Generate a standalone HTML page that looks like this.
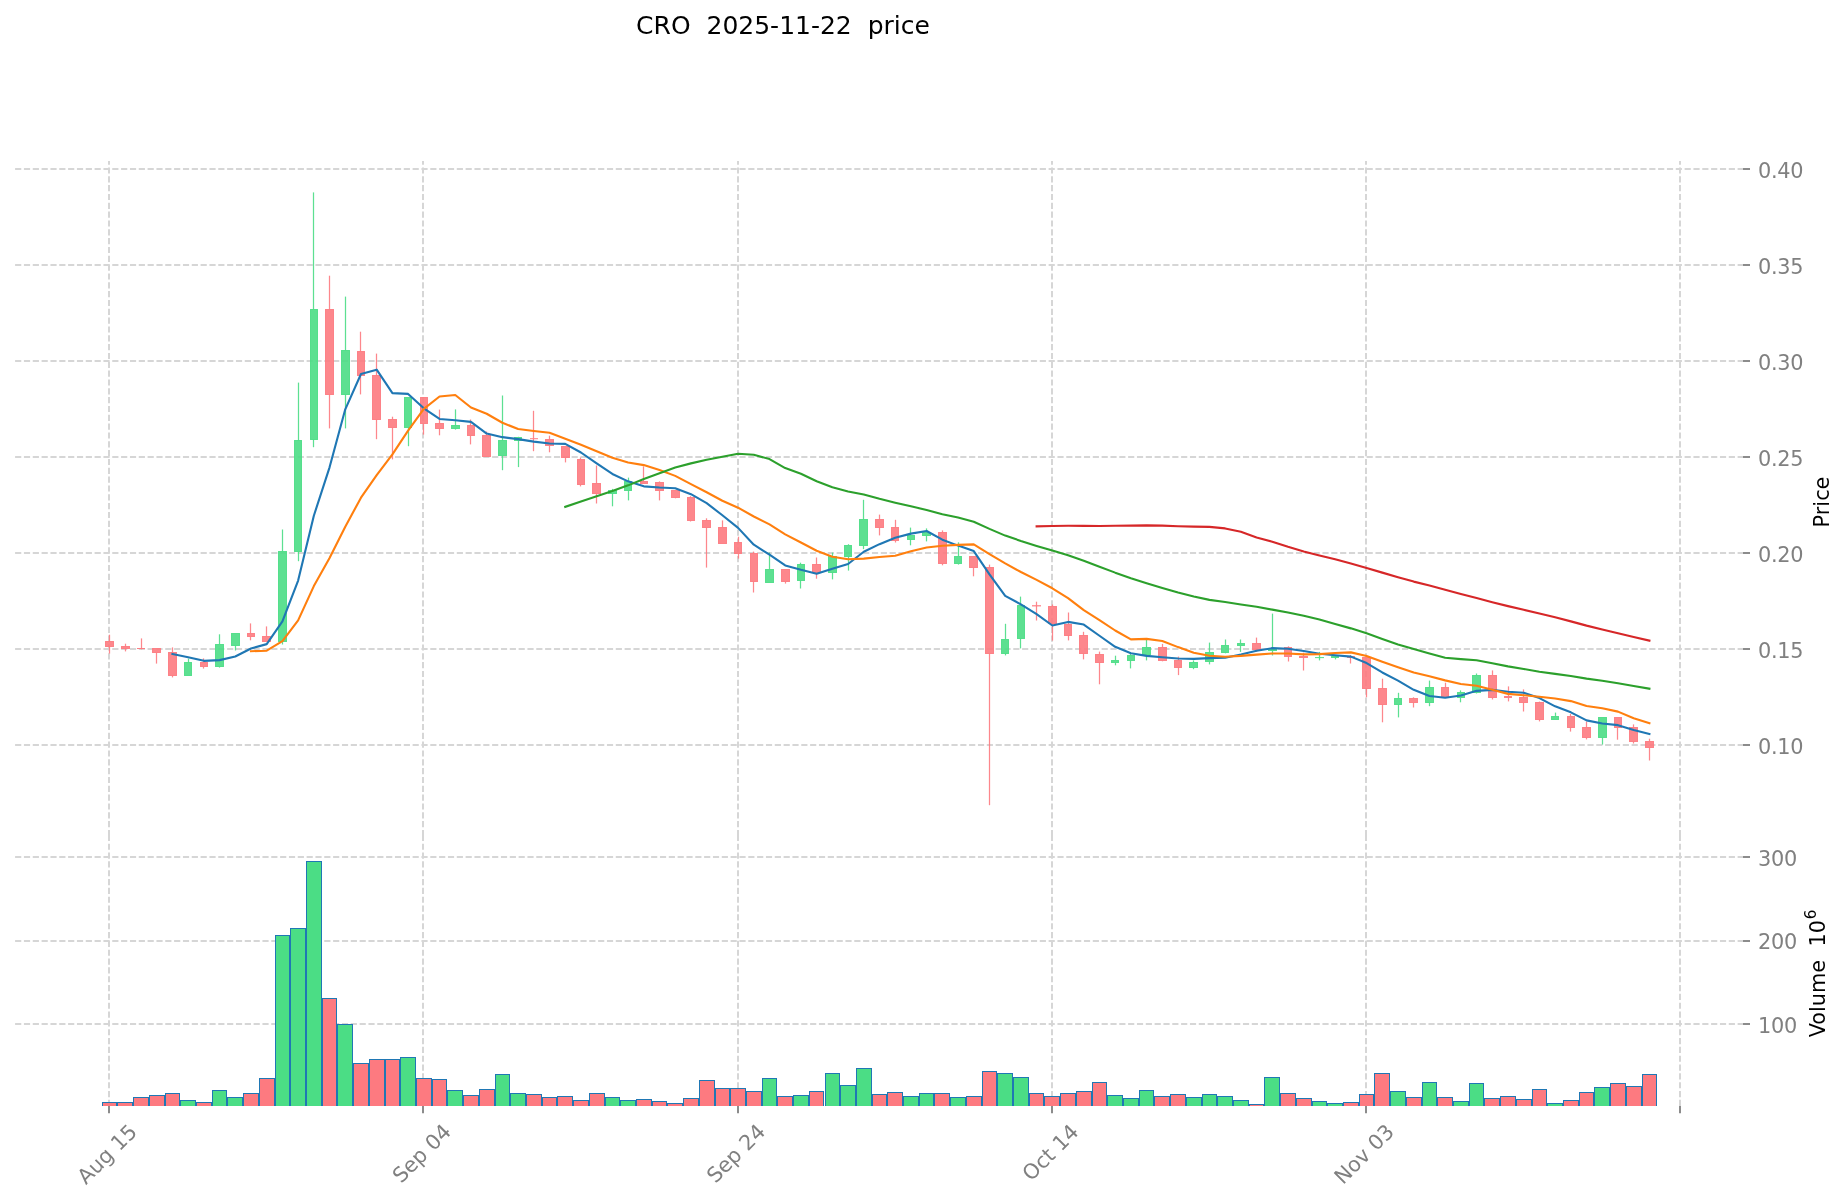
<!DOCTYPE html>
<html><head><meta charset="utf-8"><title>CRO 2025-11-22 price</title>
<style>html,body{margin:0;padding:0;background:#fff}svg{display:block;will-change:transform}</style></head>
<body>
<svg width="1847" height="1202" viewBox="0 0 1847 1202" font-family='"DejaVu Sans","Liberation Sans",sans-serif'>
<rect width="1847" height="1202" fill="#fff"/>
<g stroke="#d6d6d6" stroke-width="2" stroke-dasharray="6.1667 2.6667" fill="none">
<path d="M15.1 745.00H1743.0"/>
<path d="M15.1 649.00H1743.0"/>
<path d="M15.1 553.00H1743.0"/>
<path d="M15.1 457.00H1743.0"/>
<path d="M15.1 361.00H1743.0"/>
<path d="M15.1 265.00H1743.0"/>
<path d="M15.1 169.00H1743.0"/>
<path d="M15.1 1024.00H1743.0"/>
<path d="M15.1 941.00H1743.0"/>
<path d="M15.1 857.00H1743.0"/>
<path d="M109.00 836.1V161.0"/>
<path d="M109.00 1106.0V836.1"/>
<path d="M423.00 836.1V161.0"/>
<path d="M423.00 1106.0V836.1"/>
<path d="M738.00 836.1V161.0"/>
<path d="M738.00 1106.0V836.1"/>
<path d="M1052.00 836.1V161.0"/>
<path d="M1052.00 1106.0V836.1"/>
<path d="M1366.00 836.1V161.0"/>
<path d="M1366.00 1106.0V836.1"/>
<path d="M1680.00 836.1V161.0"/>
<path d="M1680.00 1106.0V836.1"/>
</g>
<g stroke="#8c8c8c" stroke-width="2" fill="none">
<path d="M1743.0 745.00h7"/>
<path d="M1743.0 649.00h7"/>
<path d="M1743.0 553.00h7"/>
<path d="M1743.0 457.00h7"/>
<path d="M1743.0 361.00h7"/>
<path d="M1743.0 265.00h7"/>
<path d="M1743.0 169.00h7"/>
<path d="M1743.0 1024.00h7"/>
<path d="M1743.0 941.00h7"/>
<path d="M1743.0 857.00h7"/>
<path d="M109.00 1106.0v7.3"/>
<path d="M423.00 1106.0v7.3"/>
<path d="M738.00 1106.0v7.3"/>
<path d="M1052.00 1106.0v7.3"/>
<path d="M1366.00 1106.0v7.3"/>
<path d="M1680.00 1106.0v7.3"/>
</g>
<clipPath id="vc"><rect x="15.1" y="836.1" width="1727.9" height="269.9"/></clipPath>
<g stroke="#1f77b4" stroke-width="1" clip-path="url(#vc)">
<rect x="102.5" y="1102.5" width="14.0" height="5.5" fill="#fd7a80"/>
<rect x="117.5" y="1102.5" width="15.0" height="5.5" fill="#fd7a80"/>
<rect x="133.5" y="1097.5" width="15.0" height="10.5" fill="#fd7a80"/>
<rect x="149.5" y="1095.5" width="15.0" height="12.5" fill="#fd7a80"/>
<rect x="165.5" y="1093.5" width="14.0" height="14.5" fill="#fd7a80"/>
<rect x="180.5" y="1100.5" width="15.0" height="7.5" fill="#4bdd85"/>
<rect x="196.5" y="1102.5" width="15.0" height="5.5" fill="#fd7a80"/>
<rect x="212.5" y="1090.5" width="14.0" height="17.5" fill="#4bdd85"/>
<rect x="227.5" y="1097.5" width="15.0" height="10.5" fill="#4bdd85"/>
<rect x="243.5" y="1093.5" width="15.0" height="14.5" fill="#fd7a80"/>
<rect x="259.5" y="1078.5" width="15.0" height="29.5" fill="#fd7a80"/>
<rect x="275.5" y="935.5" width="14.0" height="172.5" fill="#4bdd85"/>
<rect x="290.5" y="928.5" width="15.0" height="179.5" fill="#4bdd85"/>
<rect x="306.5" y="861.5" width="15.0" height="246.5" fill="#4bdd85"/>
<rect x="322.5" y="998.5" width="14.0" height="109.5" fill="#fd7a80"/>
<rect x="337.5" y="1024.5" width="15.0" height="83.5" fill="#4bdd85"/>
<rect x="353.5" y="1063.5" width="15.0" height="44.5" fill="#fd7a80"/>
<rect x="369.5" y="1059.5" width="15.0" height="48.5" fill="#fd7a80"/>
<rect x="385.5" y="1059.5" width="14.0" height="48.5" fill="#fd7a80"/>
<rect x="400.5" y="1057.5" width="15.0" height="50.5" fill="#4bdd85"/>
<rect x="416.5" y="1078.5" width="15.0" height="29.5" fill="#fd7a80"/>
<rect x="432.5" y="1079.5" width="14.0" height="28.5" fill="#fd7a80"/>
<rect x="447.5" y="1090.5" width="15.0" height="17.5" fill="#4bdd85"/>
<rect x="463.5" y="1095.5" width="15.0" height="12.5" fill="#fd7a80"/>
<rect x="479.5" y="1089.5" width="15.0" height="18.5" fill="#fd7a80"/>
<rect x="495.5" y="1074.5" width="14.0" height="33.5" fill="#4bdd85"/>
<rect x="510.5" y="1093.5" width="15.0" height="14.5" fill="#4bdd85"/>
<rect x="526.5" y="1094.5" width="15.0" height="13.5" fill="#fd7a80"/>
<rect x="542.5" y="1097.5" width="14.0" height="10.5" fill="#fd7a80"/>
<rect x="557.5" y="1096.5" width="15.0" height="11.5" fill="#fd7a80"/>
<rect x="573.5" y="1100.5" width="15.0" height="7.5" fill="#fd7a80"/>
<rect x="589.5" y="1093.5" width="15.0" height="14.5" fill="#fd7a80"/>
<rect x="605.5" y="1097.5" width="14.0" height="10.5" fill="#4bdd85"/>
<rect x="620.5" y="1100.5" width="15.0" height="7.5" fill="#4bdd85"/>
<rect x="636.5" y="1099.5" width="15.0" height="8.5" fill="#fd7a80"/>
<rect x="652.5" y="1101.5" width="14.0" height="6.5" fill="#fd7a80"/>
<rect x="667.5" y="1103.5" width="15.0" height="4.5" fill="#fd7a80"/>
<rect x="683.5" y="1098.5" width="15.0" height="9.5" fill="#fd7a80"/>
<rect x="699.5" y="1080.5" width="15.0" height="27.5" fill="#fd7a80"/>
<rect x="715.5" y="1088.5" width="14.0" height="19.5" fill="#fd7a80"/>
<rect x="730.5" y="1088.5" width="15.0" height="19.5" fill="#fd7a80"/>
<rect x="746.5" y="1091.5" width="15.0" height="16.5" fill="#fd7a80"/>
<rect x="762.5" y="1078.5" width="14.0" height="29.5" fill="#4bdd85"/>
<rect x="777.5" y="1096.5" width="15.0" height="11.5" fill="#fd7a80"/>
<rect x="793.5" y="1095.5" width="15.0" height="12.5" fill="#4bdd85"/>
<rect x="809.5" y="1091.5" width="14.0" height="16.5" fill="#fd7a80"/>
<rect x="825.5" y="1073.5" width="14.0" height="34.5" fill="#4bdd85"/>
<rect x="840.5" y="1085.5" width="15.0" height="22.5" fill="#4bdd85"/>
<rect x="856.5" y="1068.5" width="15.0" height="39.5" fill="#4bdd85"/>
<rect x="872.5" y="1094.5" width="14.0" height="13.5" fill="#fd7a80"/>
<rect x="887.5" y="1092.5" width="15.0" height="15.5" fill="#fd7a80"/>
<rect x="903.5" y="1096.5" width="15.0" height="11.5" fill="#4bdd85"/>
<rect x="919.5" y="1093.5" width="14.0" height="14.5" fill="#4bdd85"/>
<rect x="934.5" y="1093.5" width="15.0" height="14.5" fill="#fd7a80"/>
<rect x="950.5" y="1097.5" width="15.0" height="10.5" fill="#4bdd85"/>
<rect x="966.5" y="1096.5" width="15.0" height="11.5" fill="#fd7a80"/>
<rect x="982.5" y="1071.5" width="14.0" height="36.5" fill="#fd7a80"/>
<rect x="997.5" y="1073.5" width="15.0" height="34.5" fill="#4bdd85"/>
<rect x="1013.5" y="1077.5" width="15.0" height="30.5" fill="#4bdd85"/>
<rect x="1029.5" y="1093.5" width="14.0" height="14.5" fill="#fd7a80"/>
<rect x="1044.5" y="1096.5" width="15.0" height="11.5" fill="#fd7a80"/>
<rect x="1060.5" y="1093.5" width="15.0" height="14.5" fill="#fd7a80"/>
<rect x="1076.5" y="1091.5" width="15.0" height="16.5" fill="#fd7a80"/>
<rect x="1092.5" y="1082.5" width="14.0" height="25.5" fill="#fd7a80"/>
<rect x="1107.5" y="1095.5" width="15.0" height="12.5" fill="#4bdd85"/>
<rect x="1123.5" y="1098.5" width="15.0" height="9.5" fill="#4bdd85"/>
<rect x="1139.5" y="1090.5" width="14.0" height="17.5" fill="#4bdd85"/>
<rect x="1154.5" y="1096.5" width="15.0" height="11.5" fill="#fd7a80"/>
<rect x="1170.5" y="1094.5" width="15.0" height="13.5" fill="#fd7a80"/>
<rect x="1186.5" y="1097.5" width="15.0" height="10.5" fill="#4bdd85"/>
<rect x="1202.5" y="1094.5" width="14.0" height="13.5" fill="#4bdd85"/>
<rect x="1217.5" y="1096.5" width="15.0" height="11.5" fill="#4bdd85"/>
<rect x="1233.5" y="1100.5" width="15.0" height="7.5" fill="#4bdd85"/>
<rect x="1249.5" y="1104.5" width="14.0" height="3.5" fill="#fd7a80"/>
<rect x="1264.5" y="1077.5" width="15.0" height="30.5" fill="#4bdd85"/>
<rect x="1280.5" y="1093.5" width="15.0" height="14.5" fill="#fd7a80"/>
<rect x="1296.5" y="1098.5" width="15.0" height="9.5" fill="#fd7a80"/>
<rect x="1312.5" y="1101.5" width="14.0" height="6.5" fill="#4bdd85"/>
<rect x="1327.5" y="1103.5" width="15.0" height="4.5" fill="#4bdd85"/>
<rect x="1343.5" y="1102.5" width="15.0" height="5.5" fill="#fd7a80"/>
<rect x="1359.5" y="1094.5" width="14.0" height="13.5" fill="#fd7a80"/>
<rect x="1374.5" y="1073.5" width="15.0" height="34.5" fill="#fd7a80"/>
<rect x="1390.5" y="1091.5" width="15.0" height="16.5" fill="#4bdd85"/>
<rect x="1406.5" y="1097.5" width="15.0" height="10.5" fill="#fd7a80"/>
<rect x="1422.5" y="1082.5" width="14.0" height="25.5" fill="#4bdd85"/>
<rect x="1437.5" y="1097.5" width="15.0" height="10.5" fill="#fd7a80"/>
<rect x="1453.5" y="1101.5" width="15.0" height="6.5" fill="#4bdd85"/>
<rect x="1469.5" y="1083.5" width="14.0" height="24.5" fill="#4bdd85"/>
<rect x="1484.5" y="1098.5" width="15.0" height="9.5" fill="#fd7a80"/>
<rect x="1500.5" y="1096.5" width="15.0" height="11.5" fill="#fd7a80"/>
<rect x="1516.5" y="1099.5" width="15.0" height="8.5" fill="#fd7a80"/>
<rect x="1532.5" y="1089.5" width="14.0" height="18.5" fill="#fd7a80"/>
<rect x="1547.5" y="1103.5" width="15.0" height="4.5" fill="#4bdd85"/>
<rect x="1563.5" y="1100.5" width="15.0" height="7.5" fill="#fd7a80"/>
<rect x="1579.5" y="1092.5" width="14.0" height="15.5" fill="#fd7a80"/>
<rect x="1594.5" y="1087.5" width="15.0" height="20.5" fill="#4bdd85"/>
<rect x="1610.5" y="1083.5" width="15.0" height="24.5" fill="#fd7a80"/>
<rect x="1626.5" y="1086.5" width="15.0" height="21.5" fill="#fd7a80"/>
<rect x="1642.5" y="1074.5" width="14.0" height="33.5" fill="#fd7a80"/>
</g>
<g stroke="#fd7a80" fill="#fd7a80" fill-opacity="0.9" stroke-opacity="0.9">
<path d="M109.5 634.70V641.5" stroke-width="1.25"/>
<path d="M109.5 646.5V653.60" stroke-width="1.25"/>
<rect x="105.5" y="641.5" width="8.0" height="5.0" stroke-width="1"/>
</g>
<g stroke="#fd7a80" fill="#fd7a80" fill-opacity="0.9" stroke-opacity="0.9">
<path d="M125.5 643.70V646.5" stroke-width="1.25"/>
<path d="M125.5 648.5V651.40" stroke-width="1.25"/>
<rect x="121.5" y="646.5" width="8.0" height="2.0" stroke-width="1"/>
</g>
<g stroke="#fd7a80" fill="#fd7a80" fill-opacity="0.9" stroke-opacity="0.9">
<path d="M141.5 638.40V648.5" stroke-width="1.25"/>
<path d="M141.5 648.5V649.30" stroke-width="1.25"/>
<rect x="137.0" y="648.00" width="8.0" height="1.00" stroke="none" fill-opacity="0.97"/>
</g>
<g stroke="#fd7a80" fill="#fd7a80" fill-opacity="0.9" stroke-opacity="0.9">
<path d="M156.5 652.5V663.60" stroke-width="1.25"/>
<rect x="152.5" y="648.5" width="8.0" height="4.0" stroke-width="1"/>
</g>
<g stroke="#fd7a80" fill="#fd7a80" fill-opacity="0.9" stroke-opacity="0.9">
<path d="M172.5 647.40V652.5" stroke-width="1.25"/>
<path d="M172.5 675.5V677.40" stroke-width="1.25"/>
<rect x="168.5" y="652.5" width="8.0" height="23.0" stroke-width="1"/>
</g>
<g stroke="#4bdd85" fill="#4bdd85" fill-opacity="0.9" stroke-opacity="0.9">
<path d="M188.5 658.60V662.5" stroke-width="1.25"/>
<rect x="184.5" y="662.5" width="7.0" height="13.0" stroke-width="1"/>
</g>
<g stroke="#fd7a80" fill="#fd7a80" fill-opacity="0.9" stroke-opacity="0.9">
<path d="M203.5 658.40V662.5" stroke-width="1.25"/>
<path d="M203.5 666.5V668.60" stroke-width="1.25"/>
<rect x="200.5" y="662.5" width="7.0" height="4.0" stroke-width="1"/>
</g>
<g stroke="#4bdd85" fill="#4bdd85" fill-opacity="0.9" stroke-opacity="0.9">
<path d="M219.5 634.30V644.5" stroke-width="1.25"/>
<path d="M219.5 666.5V667.60" stroke-width="1.25"/>
<rect x="215.5" y="644.5" width="8.0" height="22.0" stroke-width="1"/>
</g>
<g stroke="#4bdd85" fill="#4bdd85" fill-opacity="0.9" stroke-opacity="0.9">
<path d="M235.5 645.5V650.50" stroke-width="1.25"/>
<rect x="231.5" y="633.5" width="8.0" height="12.0" stroke-width="1"/>
</g>
<g stroke="#fd7a80" fill="#fd7a80" fill-opacity="0.9" stroke-opacity="0.9">
<path d="M250.5 623.40V633.5" stroke-width="1.25"/>
<path d="M250.5 636.5V640.30" stroke-width="1.25"/>
<rect x="247.5" y="633.5" width="7.0" height="3.0" stroke-width="1"/>
</g>
<g stroke="#fd7a80" fill="#fd7a80" fill-opacity="0.9" stroke-opacity="0.9">
<path d="M266.5 626.40V636.5" stroke-width="1.25"/>
<rect x="262.5" y="636.5" width="8.0" height="5.0" stroke-width="1"/>
</g>
<g stroke="#4bdd85" fill="#4bdd85" fill-opacity="0.9" stroke-opacity="0.9">
<path d="M282.5 529.50V551.5" stroke-width="1.25"/>
<path d="M282.5 641.5V644.50" stroke-width="1.25"/>
<rect x="278.5" y="551.5" width="8.0" height="90.0" stroke-width="1"/>
</g>
<g stroke="#4bdd85" fill="#4bdd85" fill-opacity="0.9" stroke-opacity="0.9">
<path d="M298.5 382.60V440.5" stroke-width="1.25"/>
<path d="M298.5 551.5V561.20" stroke-width="1.25"/>
<rect x="294.5" y="440.5" width="7.0" height="111.0" stroke-width="1"/>
</g>
<g stroke="#4bdd85" fill="#4bdd85" fill-opacity="0.9" stroke-opacity="0.9">
<path d="M313.5 192.40V309.5" stroke-width="1.25"/>
<path d="M313.5 439.5V447.20" stroke-width="1.25"/>
<rect x="310.5" y="309.5" width="7.0" height="130.0" stroke-width="1"/>
</g>
<g stroke="#fd7a80" fill="#fd7a80" fill-opacity="0.9" stroke-opacity="0.9">
<path d="M329.5 275.70V309.5" stroke-width="1.25"/>
<path d="M329.5 394.5V428.40" stroke-width="1.25"/>
<rect x="325.5" y="309.5" width="8.0" height="85.0" stroke-width="1"/>
</g>
<g stroke="#4bdd85" fill="#4bdd85" fill-opacity="0.9" stroke-opacity="0.9">
<path d="M345.5 296.60V350.5" stroke-width="1.25"/>
<path d="M345.5 394.5V428.40" stroke-width="1.25"/>
<rect x="341.5" y="350.5" width="8.0" height="44.0" stroke-width="1"/>
</g>
<g stroke="#fd7a80" fill="#fd7a80" fill-opacity="0.9" stroke-opacity="0.9">
<path d="M360.5 331.70V351.5" stroke-width="1.25"/>
<path d="M360.5 375.5V394.40" stroke-width="1.25"/>
<rect x="357.5" y="351.5" width="7.0" height="24.0" stroke-width="1"/>
</g>
<g stroke="#fd7a80" fill="#fd7a80" fill-opacity="0.9" stroke-opacity="0.9">
<path d="M376.5 353.60V375.5" stroke-width="1.25"/>
<path d="M376.5 419.5V439.20" stroke-width="1.25"/>
<rect x="372.5" y="375.5" width="8.0" height="44.0" stroke-width="1"/>
</g>
<g stroke="#fd7a80" fill="#fd7a80" fill-opacity="0.9" stroke-opacity="0.9">
<path d="M392.5 416.70V419.5" stroke-width="1.25"/>
<path d="M392.5 427.5V459.40" stroke-width="1.25"/>
<rect x="388.5" y="419.5" width="8.0" height="8.0" stroke-width="1"/>
</g>
<g stroke="#4bdd85" fill="#4bdd85" fill-opacity="0.9" stroke-opacity="0.9">
<path d="M408.5 427.5V446.20" stroke-width="1.25"/>
<rect x="404.5" y="397.5" width="7.0" height="30.0" stroke-width="1"/>
</g>
<g stroke="#fd7a80" fill="#fd7a80" fill-opacity="0.9" stroke-opacity="0.9">
<path d="M423.5 423.5V434.60" stroke-width="1.25"/>
<rect x="420.5" y="397.5" width="7.0" height="26.0" stroke-width="1"/>
</g>
<g stroke="#fd7a80" fill="#fd7a80" fill-opacity="0.9" stroke-opacity="0.9">
<path d="M439.5 409.60V423.5" stroke-width="1.25"/>
<path d="M439.5 428.5V435.30" stroke-width="1.25"/>
<rect x="435.5" y="423.5" width="8.0" height="5.0" stroke-width="1"/>
</g>
<g stroke="#4bdd85" fill="#4bdd85" fill-opacity="0.9" stroke-opacity="0.9">
<path d="M455.5 409.40V425.5" stroke-width="1.25"/>
<path d="M455.5 428.5V429.60" stroke-width="1.25"/>
<rect x="451.5" y="425.5" width="8.0" height="3.0" stroke-width="1"/>
</g>
<g stroke="#fd7a80" fill="#fd7a80" fill-opacity="0.9" stroke-opacity="0.9">
<path d="M470.5 419.50V425.5" stroke-width="1.25"/>
<path d="M470.5 435.5V444.40" stroke-width="1.25"/>
<rect x="467.5" y="425.5" width="7.0" height="10.0" stroke-width="1"/>
</g>
<g stroke="#fd7a80" fill="#fd7a80" fill-opacity="0.9" stroke-opacity="0.9">
<path d="M486.5 431.50V435.5" stroke-width="1.25"/>
<rect x="482.5" y="435.5" width="8.0" height="21.0" stroke-width="1"/>
</g>
<g stroke="#4bdd85" fill="#4bdd85" fill-opacity="0.9" stroke-opacity="0.9">
<path d="M502.5 395.50V440.5" stroke-width="1.25"/>
<path d="M502.5 455.5V470.20" stroke-width="1.25"/>
<rect x="498.5" y="440.5" width="8.0" height="15.0" stroke-width="1"/>
</g>
<g stroke="#4bdd85" fill="#4bdd85" fill-opacity="0.9" stroke-opacity="0.9">
<path d="M518.5 436.80V437.5" stroke-width="1.25"/>
<path d="M518.5 440.5V467.10" stroke-width="1.25"/>
<rect x="514.5" y="437.5" width="7.0" height="3.0" stroke-width="1"/>
</g>
<g stroke="#fd7a80" fill="#fd7a80" fill-opacity="0.9" stroke-opacity="0.9">
<path d="M533.5 410.80V438.5" stroke-width="1.25"/>
<path d="M533.5 438.5V451.20" stroke-width="1.25"/>
<rect x="530.0" y="438.20" width="8.0" height="1.00" stroke="none" fill-opacity="0.97"/>
</g>
<g stroke="#fd7a80" fill="#fd7a80" fill-opacity="0.9" stroke-opacity="0.9">
<path d="M549.5 435.70V439.5" stroke-width="1.25"/>
<path d="M549.5 445.5V452.30" stroke-width="1.25"/>
<rect x="545.5" y="439.5" width="8.0" height="6.0" stroke-width="1"/>
</g>
<g stroke="#fd7a80" fill="#fd7a80" fill-opacity="0.9" stroke-opacity="0.9">
<path d="M565.5 457.5V462.40" stroke-width="1.25"/>
<rect x="561.5" y="446.5" width="8.0" height="11.0" stroke-width="1"/>
</g>
<g stroke="#fd7a80" fill="#fd7a80" fill-opacity="0.9" stroke-opacity="0.9">
<path d="M580.5 457.50V459.5" stroke-width="1.25"/>
<path d="M580.5 484.5V486.40" stroke-width="1.25"/>
<rect x="577.5" y="459.5" width="7.0" height="25.0" stroke-width="1"/>
</g>
<g stroke="#fd7a80" fill="#fd7a80" fill-opacity="0.9" stroke-opacity="0.9">
<path d="M596.5 465.50V483.5" stroke-width="1.25"/>
<path d="M596.5 493.5V503.50" stroke-width="1.25"/>
<rect x="592.5" y="483.5" width="8.0" height="10.0" stroke-width="1"/>
</g>
<g stroke="#4bdd85" fill="#4bdd85" fill-opacity="0.9" stroke-opacity="0.9">
<path d="M612.5 488.90V490.5" stroke-width="1.25"/>
<path d="M612.5 493.5V506.30" stroke-width="1.25"/>
<rect x="608.5" y="490.5" width="8.0" height="3.0" stroke-width="1"/>
</g>
<g stroke="#4bdd85" fill="#4bdd85" fill-opacity="0.9" stroke-opacity="0.9">
<path d="M628.5 477.60V481.5" stroke-width="1.25"/>
<path d="M628.5 490.5V500.40" stroke-width="1.25"/>
<rect x="624.5" y="481.5" width="7.0" height="9.0" stroke-width="1"/>
</g>
<g stroke="#fd7a80" fill="#fd7a80" fill-opacity="0.9" stroke-opacity="0.9">
<path d="M643.5 466.40V481.5" stroke-width="1.25"/>
<rect x="640.5" y="481.5" width="7.0" height="2.0" stroke-width="1"/>
</g>
<g stroke="#fd7a80" fill="#fd7a80" fill-opacity="0.9" stroke-opacity="0.9">
<path d="M659.5 481.40V482.5" stroke-width="1.25"/>
<path d="M659.5 490.5V500.40" stroke-width="1.25"/>
<rect x="655.5" y="482.5" width="8.0" height="8.0" stroke-width="1"/>
</g>
<g stroke="#fd7a80" fill="#fd7a80" fill-opacity="0.9" stroke-opacity="0.9">
<path d="M675.5 497.5V498.30" stroke-width="1.25"/>
<rect x="671.5" y="490.5" width="8.0" height="7.0" stroke-width="1"/>
</g>
<g stroke="#fd7a80" fill="#fd7a80" fill-opacity="0.9" stroke-opacity="0.9">
<path d="M690.5 496.20V497.5" stroke-width="1.25"/>
<path d="M690.5 520.5V521.50" stroke-width="1.25"/>
<rect x="687.5" y="497.5" width="7.0" height="23.0" stroke-width="1"/>
</g>
<g stroke="#fd7a80" fill="#fd7a80" fill-opacity="0.9" stroke-opacity="0.9">
<path d="M706.5 518.30V520.5" stroke-width="1.25"/>
<path d="M706.5 527.5V567.60" stroke-width="1.25"/>
<rect x="702.5" y="520.5" width="8.0" height="7.0" stroke-width="1"/>
</g>
<g stroke="#fd7a80" fill="#fd7a80" fill-opacity="0.9" stroke-opacity="0.9">
<path d="M722.5 520.40V527.5" stroke-width="1.25"/>
<rect x="718.5" y="527.5" width="8.0" height="16.0" stroke-width="1"/>
</g>
<g stroke="#fd7a80" fill="#fd7a80" fill-opacity="0.9" stroke-opacity="0.9">
<path d="M738.5 536.70V542.5" stroke-width="1.25"/>
<path d="M738.5 553.5V558.60" stroke-width="1.25"/>
<rect x="734.5" y="542.5" width="7.0" height="11.0" stroke-width="1"/>
</g>
<g stroke="#fd7a80" fill="#fd7a80" fill-opacity="0.9" stroke-opacity="0.9">
<path d="M753.5 551.60V553.5" stroke-width="1.25"/>
<path d="M753.5 581.5V592.50" stroke-width="1.25"/>
<rect x="750.5" y="553.5" width="7.0" height="28.0" stroke-width="1"/>
</g>
<g stroke="#4bdd85" fill="#4bdd85" fill-opacity="0.9" stroke-opacity="0.9">
<path d="M769.5 552.40V569.5" stroke-width="1.25"/>
<rect x="765.5" y="569.5" width="8.0" height="13.0" stroke-width="1"/>
</g>
<g stroke="#fd7a80" fill="#fd7a80" fill-opacity="0.9" stroke-opacity="0.9">
<path d="M785.5 581.5V583.60" stroke-width="1.25"/>
<rect x="781.5" y="569.5" width="8.0" height="12.0" stroke-width="1"/>
</g>
<g stroke="#4bdd85" fill="#4bdd85" fill-opacity="0.9" stroke-opacity="0.9">
<path d="M800.5 562.70V564.5" stroke-width="1.25"/>
<path d="M800.5 580.5V588.50" stroke-width="1.25"/>
<rect x="797.5" y="564.5" width="7.0" height="16.0" stroke-width="1"/>
</g>
<g stroke="#fd7a80" fill="#fd7a80" fill-opacity="0.9" stroke-opacity="0.9">
<path d="M816.5 557.50V564.5" stroke-width="1.25"/>
<path d="M816.5 572.5V578.70" stroke-width="1.25"/>
<rect x="812.5" y="564.5" width="8.0" height="8.0" stroke-width="1"/>
</g>
<g stroke="#4bdd85" fill="#4bdd85" fill-opacity="0.9" stroke-opacity="0.9">
<path d="M832.5 552.60V556.5" stroke-width="1.25"/>
<path d="M832.5 572.5V579.40" stroke-width="1.25"/>
<rect x="828.5" y="556.5" width="8.0" height="16.0" stroke-width="1"/>
</g>
<g stroke="#4bdd85" fill="#4bdd85" fill-opacity="0.9" stroke-opacity="0.9">
<path d="M848.5 544.20V545.5" stroke-width="1.25"/>
<path d="M848.5 556.5V570.60" stroke-width="1.25"/>
<rect x="844.5" y="545.5" width="7.0" height="11.0" stroke-width="1"/>
</g>
<g stroke="#4bdd85" fill="#4bdd85" fill-opacity="0.9" stroke-opacity="0.9">
<path d="M863.5 499.80V519.5" stroke-width="1.25"/>
<path d="M863.5 545.5V549.10" stroke-width="1.25"/>
<rect x="859.5" y="519.5" width="8.0" height="26.0" stroke-width="1"/>
</g>
<g stroke="#fd7a80" fill="#fd7a80" fill-opacity="0.9" stroke-opacity="0.9">
<path d="M879.5 514.60V519.5" stroke-width="1.25"/>
<path d="M879.5 527.5V535.40" stroke-width="1.25"/>
<rect x="875.5" y="519.5" width="8.0" height="8.0" stroke-width="1"/>
</g>
<g stroke="#fd7a80" fill="#fd7a80" fill-opacity="0.9" stroke-opacity="0.9">
<path d="M895.5 519.80V527.5" stroke-width="1.25"/>
<path d="M895.5 540.5V542.50" stroke-width="1.25"/>
<rect x="891.5" y="527.5" width="7.0" height="13.0" stroke-width="1"/>
</g>
<g stroke="#4bdd85" fill="#4bdd85" fill-opacity="0.9" stroke-opacity="0.9">
<path d="M910.5 527.60V535.5" stroke-width="1.25"/>
<path d="M910.5 539.5V545.30" stroke-width="1.25"/>
<rect x="907.5" y="535.5" width="7.0" height="4.0" stroke-width="1"/>
</g>
<g stroke="#4bdd85" fill="#4bdd85" fill-opacity="0.9" stroke-opacity="0.9">
<path d="M926.5 528.40V532.5" stroke-width="1.25"/>
<path d="M926.5 535.5V541.40" stroke-width="1.25"/>
<rect x="922.5" y="532.5" width="8.0" height="3.0" stroke-width="1"/>
</g>
<g stroke="#fd7a80" fill="#fd7a80" fill-opacity="0.9" stroke-opacity="0.9">
<path d="M942.5 530.40V532.5" stroke-width="1.25"/>
<path d="M942.5 563.5V565.30" stroke-width="1.25"/>
<rect x="938.5" y="532.5" width="8.0" height="31.0" stroke-width="1"/>
</g>
<g stroke="#4bdd85" fill="#4bdd85" fill-opacity="0.9" stroke-opacity="0.9">
<path d="M958.5 542.30V556.5" stroke-width="1.25"/>
<path d="M958.5 563.5V564.60" stroke-width="1.25"/>
<rect x="954.5" y="556.5" width="7.0" height="7.0" stroke-width="1"/>
</g>
<g stroke="#fd7a80" fill="#fd7a80" fill-opacity="0.9" stroke-opacity="0.9">
<path d="M973.5 567.5V576.30" stroke-width="1.25"/>
<rect x="969.5" y="556.5" width="8.0" height="11.0" stroke-width="1"/>
</g>
<g stroke="#fd7a80" fill="#fd7a80" fill-opacity="0.9" stroke-opacity="0.9">
<path d="M989.5 564.60V567.5" stroke-width="1.25"/>
<path d="M989.5 653.5V805.20" stroke-width="1.25"/>
<rect x="985.5" y="567.5" width="8.0" height="86.0" stroke-width="1"/>
</g>
<g stroke="#4bdd85" fill="#4bdd85" fill-opacity="0.9" stroke-opacity="0.9">
<path d="M1005.5 623.80V639.5" stroke-width="1.25"/>
<path d="M1005.5 653.5V655.40" stroke-width="1.25"/>
<rect x="1001.5" y="639.5" width="7.0" height="14.0" stroke-width="1"/>
</g>
<g stroke="#4bdd85" fill="#4bdd85" fill-opacity="0.9" stroke-opacity="0.9">
<path d="M1020.5 596.60V605.5" stroke-width="1.25"/>
<path d="M1020.5 638.5V648.40" stroke-width="1.25"/>
<rect x="1017.5" y="605.5" width="7.0" height="33.0" stroke-width="1"/>
</g>
<g stroke="#fd7a80" fill="#fd7a80" fill-opacity="0.9" stroke-opacity="0.9">
<path d="M1036.5 601.70V605.5" stroke-width="1.25"/>
<path d="M1036.5 605.5V620.50" stroke-width="1.25"/>
<rect x="1032.0" y="605.20" width="9.0" height="1.20" stroke="none" fill-opacity="0.97"/>
</g>
<g stroke="#fd7a80" fill="#fd7a80" fill-opacity="0.9" stroke-opacity="0.9">
<path d="M1052.5 604.50V606.5" stroke-width="1.25"/>
<path d="M1052.5 623.5V640.60" stroke-width="1.25"/>
<rect x="1048.5" y="606.5" width="8.0" height="17.0" stroke-width="1"/>
</g>
<g stroke="#fd7a80" fill="#fd7a80" fill-opacity="0.9" stroke-opacity="0.9">
<path d="M1068.5 612.50V624.5" stroke-width="1.25"/>
<path d="M1068.5 635.5V640.40" stroke-width="1.25"/>
<rect x="1064.5" y="624.5" width="7.0" height="11.0" stroke-width="1"/>
</g>
<g stroke="#fd7a80" fill="#fd7a80" fill-opacity="0.9" stroke-opacity="0.9">
<path d="M1083.5 631.80V635.5" stroke-width="1.25"/>
<path d="M1083.5 653.5V659.40" stroke-width="1.25"/>
<rect x="1079.5" y="635.5" width="8.0" height="18.0" stroke-width="1"/>
</g>
<g stroke="#fd7a80" fill="#fd7a80" fill-opacity="0.9" stroke-opacity="0.9">
<path d="M1099.5 651.60V654.5" stroke-width="1.25"/>
<path d="M1099.5 662.5V684.30" stroke-width="1.25"/>
<rect x="1095.5" y="654.5" width="8.0" height="8.0" stroke-width="1"/>
</g>
<g stroke="#4bdd85" fill="#4bdd85" fill-opacity="0.9" stroke-opacity="0.9">
<path d="M1115.5 655.70V660.5" stroke-width="1.25"/>
<path d="M1115.5 662.5V665.30" stroke-width="1.25"/>
<rect x="1111.5" y="660.5" width="7.0" height="2.0" stroke-width="1"/>
</g>
<g stroke="#4bdd85" fill="#4bdd85" fill-opacity="0.9" stroke-opacity="0.9">
<path d="M1130.5 652.60V655.5" stroke-width="1.25"/>
<path d="M1130.5 660.5V668.40" stroke-width="1.25"/>
<rect x="1127.5" y="655.5" width="7.0" height="5.0" stroke-width="1"/>
</g>
<g stroke="#4bdd85" fill="#4bdd85" fill-opacity="0.9" stroke-opacity="0.9">
<path d="M1146.5 639.20V647.5" stroke-width="1.25"/>
<path d="M1146.5 654.5V660.40" stroke-width="1.25"/>
<rect x="1142.5" y="647.5" width="8.0" height="7.0" stroke-width="1"/>
</g>
<g stroke="#fd7a80" fill="#fd7a80" fill-opacity="0.9" stroke-opacity="0.9">
<path d="M1162.5 643.90V647.5" stroke-width="1.25"/>
<path d="M1162.5 660.5V661.30" stroke-width="1.25"/>
<rect x="1158.5" y="647.5" width="8.0" height="13.0" stroke-width="1"/>
</g>
<g stroke="#fd7a80" fill="#fd7a80" fill-opacity="0.9" stroke-opacity="0.9">
<path d="M1178.5 656.60V660.5" stroke-width="1.25"/>
<path d="M1178.5 667.5V675.10" stroke-width="1.25"/>
<rect x="1174.5" y="660.5" width="7.0" height="7.0" stroke-width="1"/>
</g>
<g stroke="#4bdd85" fill="#4bdd85" fill-opacity="0.9" stroke-opacity="0.9">
<path d="M1193.5 660.40V662.5" stroke-width="1.25"/>
<path d="M1193.5 667.5V669.20" stroke-width="1.25"/>
<rect x="1189.5" y="662.5" width="8.0" height="5.0" stroke-width="1"/>
</g>
<g stroke="#4bdd85" fill="#4bdd85" fill-opacity="0.9" stroke-opacity="0.9">
<path d="M1209.5 642.60V652.5" stroke-width="1.25"/>
<path d="M1209.5 661.5V664.40" stroke-width="1.25"/>
<rect x="1205.5" y="652.5" width="8.0" height="9.0" stroke-width="1"/>
</g>
<g stroke="#4bdd85" fill="#4bdd85" fill-opacity="0.9" stroke-opacity="0.9">
<path d="M1225.5 639.50V645.5" stroke-width="1.25"/>
<path d="M1225.5 652.5V653.30" stroke-width="1.25"/>
<rect x="1221.5" y="645.5" width="7.0" height="7.0" stroke-width="1"/>
</g>
<g stroke="#4bdd85" fill="#4bdd85" fill-opacity="0.9" stroke-opacity="0.9">
<path d="M1240.5 639.50V643.5" stroke-width="1.25"/>
<path d="M1240.5 645.5V651.90" stroke-width="1.25"/>
<rect x="1237.5" y="643.5" width="7.0" height="2.0" stroke-width="1"/>
</g>
<g stroke="#fd7a80" fill="#fd7a80" fill-opacity="0.9" stroke-opacity="0.9">
<path d="M1256.5 637.60V643.5" stroke-width="1.25"/>
<path d="M1256.5 649.5V651.70" stroke-width="1.25"/>
<rect x="1252.5" y="643.5" width="8.0" height="6.0" stroke-width="1"/>
</g>
<g stroke="#4bdd85" fill="#4bdd85" fill-opacity="0.9" stroke-opacity="0.9">
<path d="M1272.5 613.60V649.5" stroke-width="1.25"/>
<path d="M1272.5 650.5V655.50" stroke-width="1.25"/>
<rect x="1268.5" y="649.5" width="8.0" height="1.0" stroke-width="1"/>
</g>
<g stroke="#fd7a80" fill="#fd7a80" fill-opacity="0.9" stroke-opacity="0.9">
<path d="M1288.5 646.30V647.5" stroke-width="1.25"/>
<path d="M1288.5 656.5V661.50" stroke-width="1.25"/>
<rect x="1284.5" y="647.5" width="7.0" height="9.0" stroke-width="1"/>
</g>
<g stroke="#fd7a80" fill="#fd7a80" fill-opacity="0.9" stroke-opacity="0.9">
<path d="M1303.5 652.60V656.5" stroke-width="1.25"/>
<path d="M1303.5 657.5V670.50" stroke-width="1.25"/>
<rect x="1299.5" y="656.5" width="8.0" height="1.0" stroke-width="1"/>
</g>
<g stroke="#4bdd85" fill="#4bdd85" fill-opacity="0.9" stroke-opacity="0.9">
<path d="M1319.5 651.90V657.5" stroke-width="1.25"/>
<path d="M1319.5 657.5V660.40" stroke-width="1.25"/>
<rect x="1315.0" y="657.10" width="9.0" height="1.00" stroke="none" fill-opacity="0.97"/>
</g>
<g stroke="#4bdd85" fill="#4bdd85" fill-opacity="0.9" stroke-opacity="0.9">
<path d="M1335.5 655.00V656.5" stroke-width="1.25"/>
<path d="M1335.5 657.5V659.40" stroke-width="1.25"/>
<rect x="1331.5" y="656.5" width="7.0" height="1.0" stroke-width="1"/>
</g>
<g stroke="#fd7a80" fill="#fd7a80" fill-opacity="0.9" stroke-opacity="0.9">
<path d="M1350.5 655.00V656.5" stroke-width="1.25"/>
<path d="M1350.5 657.5V663.50" stroke-width="1.25"/>
<rect x="1347.5" y="656.5" width="7.0" height="1.0" stroke-width="1"/>
</g>
<g stroke="#fd7a80" fill="#fd7a80" fill-opacity="0.9" stroke-opacity="0.9">
<path d="M1366.5 688.5V697.30" stroke-width="1.25"/>
<rect x="1362.5" y="657.5" width="8.0" height="31.0" stroke-width="1"/>
</g>
<g stroke="#fd7a80" fill="#fd7a80" fill-opacity="0.9" stroke-opacity="0.9">
<path d="M1382.5 678.70V688.5" stroke-width="1.25"/>
<path d="M1382.5 704.5V722.30" stroke-width="1.25"/>
<rect x="1378.5" y="688.5" width="8.0" height="16.0" stroke-width="1"/>
</g>
<g stroke="#4bdd85" fill="#4bdd85" fill-opacity="0.9" stroke-opacity="0.9">
<path d="M1398.5 692.80V698.5" stroke-width="1.25"/>
<path d="M1398.5 704.5V717.40" stroke-width="1.25"/>
<rect x="1394.5" y="698.5" width="7.0" height="6.0" stroke-width="1"/>
</g>
<g stroke="#fd7a80" fill="#fd7a80" fill-opacity="0.9" stroke-opacity="0.9">
<path d="M1413.5 697.30V698.5" stroke-width="1.25"/>
<path d="M1413.5 702.5V707.50" stroke-width="1.25"/>
<rect x="1409.5" y="698.5" width="8.0" height="4.0" stroke-width="1"/>
</g>
<g stroke="#4bdd85" fill="#4bdd85" fill-opacity="0.9" stroke-opacity="0.9">
<path d="M1429.5 680.60V687.5" stroke-width="1.25"/>
<path d="M1429.5 702.5V706.20" stroke-width="1.25"/>
<rect x="1425.5" y="687.5" width="8.0" height="15.0" stroke-width="1"/>
</g>
<g stroke="#fd7a80" fill="#fd7a80" fill-opacity="0.9" stroke-opacity="0.9">
<path d="M1445.5 682.70V687.5" stroke-width="1.25"/>
<rect x="1441.5" y="687.5" width="7.0" height="10.0" stroke-width="1"/>
</g>
<g stroke="#4bdd85" fill="#4bdd85" fill-opacity="0.9" stroke-opacity="0.9">
<path d="M1460.5 690.40V692.5" stroke-width="1.25"/>
<path d="M1460.5 697.5V702.30" stroke-width="1.25"/>
<rect x="1457.5" y="692.5" width="7.0" height="5.0" stroke-width="1"/>
</g>
<g stroke="#4bdd85" fill="#4bdd85" fill-opacity="0.9" stroke-opacity="0.9">
<path d="M1476.5 673.50V675.5" stroke-width="1.25"/>
<path d="M1476.5 692.5V693.50" stroke-width="1.25"/>
<rect x="1472.5" y="675.5" width="8.0" height="17.0" stroke-width="1"/>
</g>
<g stroke="#fd7a80" fill="#fd7a80" fill-opacity="0.9" stroke-opacity="0.9">
<path d="M1492.5 670.40V675.5" stroke-width="1.25"/>
<path d="M1492.5 697.5V699.50" stroke-width="1.25"/>
<rect x="1488.5" y="675.5" width="8.0" height="22.0" stroke-width="1"/>
</g>
<g stroke="#fd7a80" fill="#fd7a80" fill-opacity="0.9" stroke-opacity="0.9">
<path d="M1508.5 686.40V696.5" stroke-width="1.25"/>
<path d="M1508.5 697.5V701.40" stroke-width="1.25"/>
<rect x="1504.5" y="696.5" width="7.0" height="1.0" stroke-width="1"/>
</g>
<g stroke="#fd7a80" fill="#fd7a80" fill-opacity="0.9" stroke-opacity="0.9">
<path d="M1523.5 689.40V697.5" stroke-width="1.25"/>
<path d="M1523.5 702.5V711.50" stroke-width="1.25"/>
<rect x="1519.5" y="697.5" width="8.0" height="5.0" stroke-width="1"/>
</g>
<g stroke="#fd7a80" fill="#fd7a80" fill-opacity="0.9" stroke-opacity="0.9">
<path d="M1539.5 701.60V702.5" stroke-width="1.25"/>
<path d="M1539.5 719.5V721.40" stroke-width="1.25"/>
<rect x="1535.5" y="702.5" width="8.0" height="17.0" stroke-width="1"/>
</g>
<g stroke="#4bdd85" fill="#4bdd85" fill-opacity="0.9" stroke-opacity="0.9">
<path d="M1555.5 712.60V716.5" stroke-width="1.25"/>
<rect x="1551.5" y="716.5" width="7.0" height="3.0" stroke-width="1"/>
</g>
<g stroke="#fd7a80" fill="#fd7a80" fill-opacity="0.9" stroke-opacity="0.9">
<path d="M1570.5 714.00V716.5" stroke-width="1.25"/>
<path d="M1570.5 727.5V731.60" stroke-width="1.25"/>
<rect x="1567.5" y="716.5" width="7.0" height="11.0" stroke-width="1"/>
</g>
<g stroke="#fd7a80" fill="#fd7a80" fill-opacity="0.9" stroke-opacity="0.9">
<path d="M1586.5 721.60V727.5" stroke-width="1.25"/>
<path d="M1586.5 737.5V739.40" stroke-width="1.25"/>
<rect x="1582.5" y="727.5" width="8.0" height="10.0" stroke-width="1"/>
</g>
<g stroke="#4bdd85" fill="#4bdd85" fill-opacity="0.9" stroke-opacity="0.9">
<path d="M1602.5 737.5V744.60" stroke-width="1.25"/>
<rect x="1598.5" y="717.5" width="8.0" height="20.0" stroke-width="1"/>
</g>
<g stroke="#fd7a80" fill="#fd7a80" fill-opacity="0.9" stroke-opacity="0.9">
<path d="M1617.5 727.5V739.70" stroke-width="1.25"/>
<rect x="1614.5" y="717.5" width="7.0" height="10.0" stroke-width="1"/>
</g>
<g stroke="#fd7a80" fill="#fd7a80" fill-opacity="0.9" stroke-opacity="0.9">
<path d="M1633.5 724.40V727.5" stroke-width="1.25"/>
<path d="M1633.5 741.5V743.50" stroke-width="1.25"/>
<rect x="1629.5" y="727.5" width="8.0" height="14.0" stroke-width="1"/>
</g>
<g stroke="#fd7a80" fill="#fd7a80" fill-opacity="0.9" stroke-opacity="0.9">
<path d="M1649.5 738.70V741.5" stroke-width="1.25"/>
<path d="M1649.5 747.5V760.50" stroke-width="1.25"/>
<rect x="1645.5" y="741.5" width="8.0" height="6.0" stroke-width="1"/>
</g>
<path d="M172.43 653.95 L188.14 657.29 L203.86 660.85 L219.57 660.13 L235.28 656.47 L250.99 648.53 L266.71 644.13 L282.42 621.33 L298.13 580.55 L313.84 515.73 L329.56 467.35 L345.27 409.35 L360.98 373.99 L376.69 369.65 L392.41 393.15 L408.12 393.91 L423.83 408.35 L439.54 418.95 L455.26 420.29 L470.97 421.91 L486.68 433.57 L502.39 437.15 L518.11 439.13 L533.82 441.61 L549.53 443.57 L565.25 443.87 L580.96 452.49 L596.67 463.47 L612.38 473.95 L628.10 481.35 L643.81 486.35 L659.52 487.53 L675.23 488.31 L690.95 494.21 L706.66 503.19 L722.37 515.23 L738.08 527.87 L753.80 544.71 L769.51 554.65 L785.22 565.47 L800.93 569.85 L816.65 573.69 L832.36 568.75 L848.07 563.97 L863.78 551.75 L879.50 544.17 L895.21 537.69 L910.92 533.61 L926.64 531.01 L942.35 539.65 L958.06 545.61 L973.77 551.05 L989.49 574.45 L1005.20 595.85 L1020.91 604.39 L1036.62 614.17 L1052.34 625.51 L1068.05 621.91 L1083.76 624.53 L1099.47 635.75 L1115.19 646.83 L1130.90 653.29 L1146.61 655.89 L1162.32 657.31 L1178.04 658.47 L1193.75 658.83 L1209.46 658.15 L1225.17 657.75 L1240.89 654.51 L1256.60 650.77 L1272.31 648.15 L1288.02 648.79 L1303.74 651.01 L1319.45 653.79 L1335.16 655.21 L1350.88 656.63 L1366.59 663.07 L1382.30 672.45 L1398.01 680.65 L1413.73 689.79 L1429.44 695.97 L1445.15 697.71 L1460.86 695.49 L1476.58 690.85 L1492.29 689.89 L1508.00 691.75 L1523.71 692.81 L1539.43 698.07 L1555.14 706.31 L1570.85 712.35 L1586.56 720.39 L1602.28 723.53 L1617.99 725.15 L1633.70 730.05 L1649.41 734.01" stroke="#1f77b4" stroke-width="2.1" fill="none" stroke-linejoin="round" stroke-linecap="square"/>
<path d="M250.99 651.24 L266.71 650.71 L282.42 641.09 L298.13 620.34 L313.84 586.10 L329.56 557.94 L345.27 526.74 L360.98 497.66 L376.69 475.10 L392.41 454.44 L408.12 430.63 L423.83 408.85 L439.54 396.47 L455.26 394.97 L470.97 407.53 L486.68 413.74 L502.39 422.75 L518.11 429.04 L533.82 430.95 L549.53 432.74 L565.25 438.72 L580.96 444.82 L596.67 451.30 L612.38 457.78 L628.10 462.46 L643.81 465.11 L659.52 470.01 L675.23 475.89 L690.95 484.08 L706.66 492.27 L722.37 500.79 L738.08 507.70 L753.80 516.51 L769.51 524.43 L785.22 534.33 L800.93 542.54 L816.65 550.78 L832.36 556.73 L848.07 559.31 L863.78 558.61 L879.50 557.01 L895.21 555.69 L910.92 551.18 L926.64 547.49 L942.35 545.70 L958.06 544.89 L973.77 544.37 L989.49 554.03 L1005.20 563.43 L1020.91 572.02 L1036.62 579.89 L1052.34 588.28 L1068.05 598.18 L1083.76 610.19 L1099.47 620.07 L1115.19 630.50 L1130.90 639.40 L1146.61 638.90 L1162.32 640.92 L1178.04 647.11 L1193.75 652.83 L1209.46 655.72 L1225.17 656.82 L1240.89 655.91 L1256.60 654.62 L1272.31 653.49 L1288.02 653.47 L1303.74 654.38 L1319.45 654.15 L1335.16 652.99 L1350.88 652.39 L1366.59 655.93 L1382.30 661.73 L1398.01 667.22 L1413.73 672.50 L1429.44 676.30 L1445.15 680.39 L1460.86 683.97 L1476.58 685.75 L1492.29 689.84 L1508.00 693.86 L1523.71 695.26 L1539.43 696.78 L1555.14 698.58 L1570.85 701.12 L1586.56 706.07 L1602.28 708.17 L1617.99 711.61 L1633.70 718.18 L1649.41 723.18" stroke="#ff7f0e" stroke-width="2.1" fill="none" stroke-linejoin="round" stroke-linecap="square"/>
<path d="M565.25 506.86 L580.96 501.46 L596.67 496.29 L612.38 491.03 L628.10 485.36 L643.81 478.93 L659.52 473.17 L675.23 467.53 L690.95 463.38 L706.66 459.82 L722.37 456.71 L738.08 453.79 L753.80 454.76 L769.51 459.06 L785.22 468.11 L800.93 473.80 L816.65 481.18 L832.36 487.22 L848.07 491.45 L863.78 494.54 L879.50 498.84 L895.21 502.74 L910.92 506.33 L926.64 509.90 L942.35 514.16 L958.06 517.51 L973.77 521.72 L989.49 528.88 L1005.20 535.61 L1020.91 540.97 L1036.62 545.90 L1052.34 550.56 L1068.05 555.29 L1083.76 560.70 L1099.47 566.70 L1115.19 572.64 L1130.90 578.18 L1146.61 583.22 L1162.32 587.89 L1178.04 592.58 L1193.75 596.58 L1209.46 599.90 L1225.17 602.06 L1240.89 604.53 L1256.60 606.80 L1272.31 609.63 L1288.02 612.41 L1303.74 615.77 L1319.45 619.50 L1335.16 624.04 L1350.88 628.37 L1366.59 633.31 L1382.30 638.91 L1398.01 644.44 L1413.73 649.06 L1429.44 653.43 L1445.15 657.75 L1460.86 659.08 L1476.58 660.27 L1492.29 663.31 L1508.00 666.36 L1523.71 668.97 L1539.43 671.78 L1555.14 673.90 L1570.85 676.08 L1586.56 678.62 L1602.28 680.68 L1617.99 683.32 L1633.70 686.03 L1649.41 688.67" stroke="#2ca02c" stroke-width="2.1" fill="none" stroke-linejoin="round" stroke-linecap="square"/>
<path d="M1036.62 526.38 L1052.34 526.01 L1068.05 525.79 L1083.76 525.87 L1099.47 526.03 L1115.19 525.79 L1130.90 525.67 L1146.61 525.38 L1162.32 525.63 L1178.04 526.20 L1193.75 526.64 L1209.46 526.84 L1225.17 528.41 L1240.89 531.79 L1256.60 537.45 L1272.31 541.71 L1288.02 546.80 L1303.74 551.50 L1319.45 555.47 L1335.16 559.29 L1350.88 563.61 L1366.59 568.02 L1382.30 572.62 L1398.01 577.17 L1413.73 581.61 L1429.44 585.47 L1445.15 589.74 L1460.86 593.98 L1476.58 597.94 L1492.29 602.14 L1508.00 606.13 L1523.71 609.76 L1539.43 613.53 L1555.14 617.30 L1570.85 621.39 L1586.56 625.63 L1602.28 629.43 L1617.99 633.27 L1633.70 636.96 L1649.41 640.62" stroke="#d62728" stroke-width="2.1" fill="none" stroke-linejoin="round" stroke-linecap="square"/>
<text x="783" y="33.5" font-size="25" text-anchor="middle" fill="#000" xml:space="preserve">CRO  2025-11-22  price</text>
<g font-size="20.83" fill="#808080">
<text x="1758.1" y="753.90" letter-spacing="-0.35">0.10</text>
<text x="1758.1" y="657.90" letter-spacing="-0.35">0.15</text>
<text x="1758.1" y="561.90" letter-spacing="-0.35">0.20</text>
<text x="1758.1" y="465.90" letter-spacing="-0.35">0.25</text>
<text x="1758.1" y="369.90" letter-spacing="-0.35">0.30</text>
<text x="1758.1" y="273.90" letter-spacing="-0.35">0.35</text>
<text x="1758.1" y="177.90" letter-spacing="-0.35">0.40</text>
<text x="1758.1" y="1032.80" letter-spacing="-0.3">100</text>
<text x="1758.1" y="948.80" letter-spacing="-0.3">200</text>
<text x="1758.1" y="865.80" letter-spacing="-0.3">300</text>
<text transform="translate(106.80 1153.80) rotate(-45)" text-anchor="middle" y="7.6">Aug 15</text>
<text transform="translate(421.40 1153.10) rotate(-45)" text-anchor="middle" y="7.6">Sep 04</text>
<text transform="translate(735.60 1153.10) rotate(-45)" text-anchor="middle" y="7.6">Sep 24</text>
<text transform="translate(1050.10 1152.30) rotate(-45)" text-anchor="middle" y="7.6">Oct 14</text>
<text transform="translate(1363.80 1153.80) rotate(-45)" text-anchor="middle" y="7.6">Nov 03</text>
</g>
<text transform="translate(1829.2 502) rotate(-90)" text-anchor="middle" font-size="20.83" fill="#000">Price</text>
<text transform="translate(1824.9 973.4) rotate(-90)" text-anchor="middle" font-size="20.83" fill="#000" xml:space="preserve">Volume  10<tspan font-size="15.4" dy="-8.6" dx="0.8">6</tspan></text>
</svg>
</body></html>
